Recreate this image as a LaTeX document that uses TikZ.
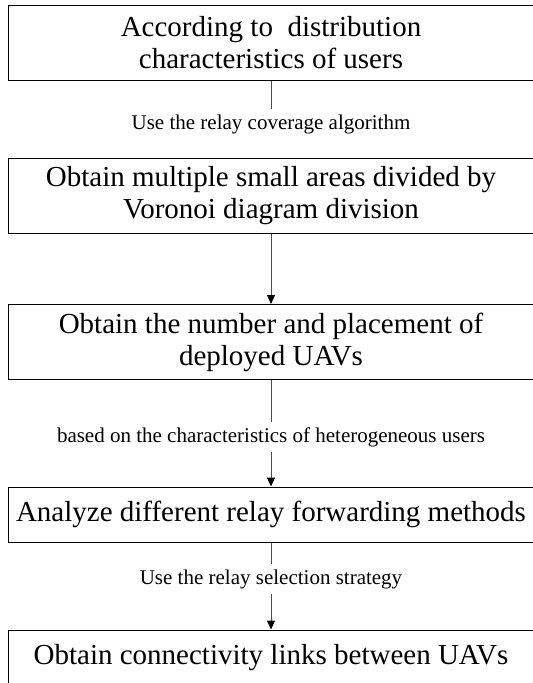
\documentclass[tikz,border=0pt]{standalone}
\usepackage{fontspec}
\setmainfont{Liberation Serif}
\usetikzlibrary{arrows.meta}
\tikzset{
  stepbox/.style={draw=black, line width=1pt, minimum width=526pt, minimum height=75pt,
    inner sep=0pt, align=center, font=\fontsize{29}{32}\selectfont},
  shortbox/.style={stepbox, minimum height=55pt},
  edgelabel/.style={inner sep=0pt, minimum height=30pt, font=\fontsize{21}{24}\selectfont},
  stem/.style={draw=black!70, line width=1pt},
  flow/.style={stem, -{Triangle[width=8pt,length=9pt,color=black]}}
}
\begin{document}
\begin{tikzpicture}[x=1pt,y=-1pt]
  \useasboundingbox (0,0) rectangle (533,683);
  \fill[white] (0,0) rectangle (533,683);
  \clip (0,0) rectangle (533,683);

  % process steps
  \node[stepbox] (b1) at (271,42.5) {According to\ \ distribution\\characteristics of users};
  \node[edgelabel] (l1) at (271,124) {Use the relay coverage algorithm};
  \node[stepbox] (b2) at (271,195.5) {Obtain multiple small areas divided by\\Voronoi diagram division};
  \node[stepbox] (b3) at (271,342) {Obtain the number and placement of\\deployed UAVs};
  \node[edgelabel] (l2) at (271,437) {based on the characteristics of heterogeneous users};
  \node[shortbox] (b4) at (271,514.5) {Analyze different relay forwarding methods};
  \node[edgelabel] (l3) at (271,579) {Use the relay selection strategy};
  \node[shortbox] (b5) at (271,657.5) {Obtain connectivity links between UAVs};

  % connectors
  \draw[stem] (b1.south) -- (l1.north);
  \draw[flow] (b2.south) -- (b3.north);
  \draw[stem] (b3.south) -- (l2.north);
  \draw[flow] (l2.south) -- (b4.north);
  \draw[stem] (b4.south) -- (l3.north);
  \draw[flow] (l3.south) -- (b5.north);
\end{tikzpicture}
\end{document}
